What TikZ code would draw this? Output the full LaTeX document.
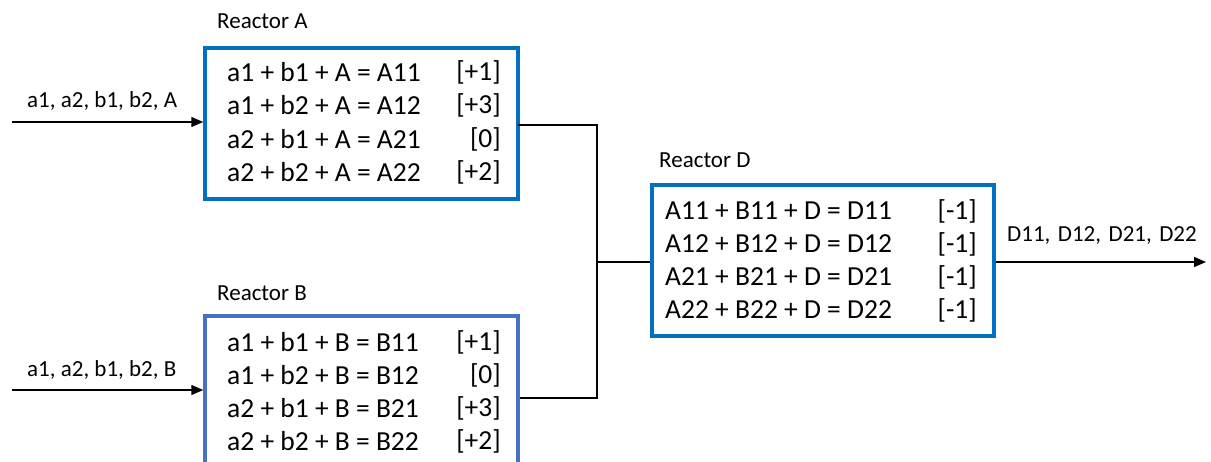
\documentclass[tikz,border=0pt]{standalone}
\usepackage{fontspec}
\setmainfont{Carlito}
\usetikzlibrary{arrows.meta}
\definecolor{boxblue}{HTML}{0070C0}
\definecolor{boxblueb}{HTML}{4472C4}
\begin{document}
\begin{tikzpicture}[x=1pt,y=-1pt,
  reactor/.style={draw=boxblue, line width=3.5pt, minimum width=313pt, inner sep=0pt},
  rowtxt/.style={anchor=west, inner sep=0pt, font=\fontsize{27.5}{32}\selectfont},
  rowval/.style={anchor=east, inner sep=0pt, font=\fontsize{27.5}{32}\selectfont},
  lbl/.style={anchor=west, inner sep=0pt, font=\fontsize{23}{27}\selectfont},
  flow/.style={line width=1.5pt, -{Triangle[length=12pt,width=10pt]}},
  wire/.style={line width=1.5pt}]
\useasboundingbox (0,0) rectangle (1211,461);
\clip (0,0) rectangle (1211,461);
% boxes
\node[reactor, minimum height=151pt] (A) at (361.5,123.5) {};
\node[reactor, draw=boxblueb, minimum height=164pt] (B) at (361.5,398) {};
\node[reactor, minimum width=342pt, minimum height=151pt] (D) at (823,260.5) {};
% titles
\node[lbl] (tA) at (217,21) {Reactor A};
\node[lbl] (tB) at (217,293) {Reactor B};
\node[lbl] (tD) at (659,160) {Reactor D};
% rows A
\node[rowtxt] (a1) at (227,72) {a1 + b1 + A = A11};
\node[rowtxt] (a2) at (227,105) {a1 + b2 + A = A12};
\node[rowtxt] (a3) at (227,139) {a2 + b1 + A = A21};
\node[rowtxt] (a4) at (227,172) {a2 + b2 + A = A22};
\node[rowval] (av1) at (501,72) {[+1]};
\node[rowval] (av2) at (501,105) {[+3]};
\node[rowval] (av3) at (501,139) {[0]};
\node[rowval] (av4) at (501,172) {[+2]};
% rows B
\node[rowtxt] (b1) at (227,342) {a1 + b1 + B = B11};
\node[rowtxt] (b2) at (227,375) {a1 + b2 + B = B12};
\node[rowtxt] (b3) at (227,408) {a2 + b1 + B = B21};
\node[rowtxt] (b4) at (227,441) {a2 + b2 + B = B22};
\node[rowval] (bv1) at (501,342) {[+1]};
\node[rowval] (bv2) at (501,375) {[0]};
\node[rowval] (bv3) at (501,408) {[+3]};
\node[rowval] (bv4) at (501,441) {[+2]};
% rows D
\node[rowtxt] (d1) at (665,211) {A11 + B11 + D = D11};
\node[rowtxt] (d2) at (665,244) {A12 + B12 + D = D12};
\node[rowtxt] (d3) at (665,277) {A21 + B21 + D = D21};
\node[rowtxt] (d4) at (665,310) {A22 + B22 + D = D22};
\node[rowval] (dv1) at (977,211) {[-1]};
\node[rowval] (dv2) at (977,244) {[-1]};
\node[rowval] (dv3) at (977,277) {[-1]};
\node[rowval] (dv4) at (977,310) {[-1]};
% inputs / outputs
\coordinate (inA) at (12,122);
\coordinate (inB) at (12,390);
\coordinate (outD) at (1206,262);
\coordinate (junc) at (597,262);
\coordinate (aout) at (518,125);
\node[lbl] (lA) at (27,101) {a1, a2, b1, b2, A};
\node[lbl] (lB) at (27,370) {a1, a2, b1, b2, B};
\node[lbl] (lD) at (1007,236) {\spaceskip=7.5pt D11, D12, D21, D22};
\draw[flow] (inA) -- (inA -| A.west);
\draw[flow] (inB) -- (inB -| B.west);
\draw[wire] (aout) -| (junc);
\draw[wire] (B.east) -| (junc);
\draw[wire] (junc) -- (junc -| D.west);
\draw[flow] (junc -| D.east) -- (outD);
\end{tikzpicture}
\end{document}
